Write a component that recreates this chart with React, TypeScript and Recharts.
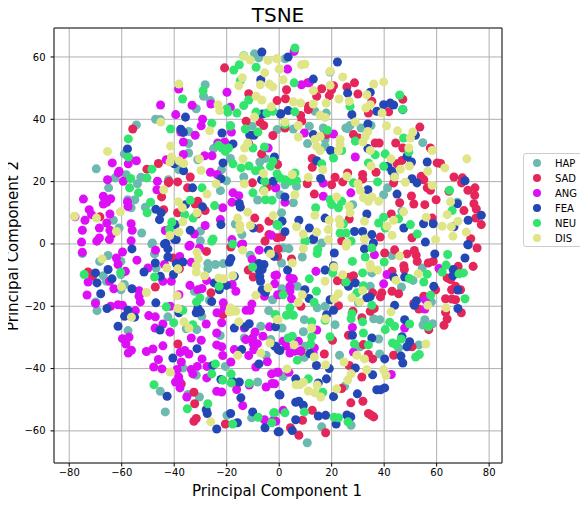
import React from 'react';
import { ScatterChart, Scatter, XAxis, YAxis, ZAxis, CartesianGrid, ReferenceArea } from 'recharts';

type P = number[];
const hap: P[] = [[-9.4,61],[-7.8,59.7],[-28.2,51.1],[-28.8,47.4],[-26.2,46],[-31.6,43.4],[-47.1,40],[-45.3,39.9],[-54.4,38.2],[-34.5,36.1],[-34.5,32.2],[-34.5,29.2],[-25,30.6],[-59,28.9],[-31,27],[-38.3,23.9],[-69.7,24.1],[-58.3,22.2],[-62.5,21.2],[-54,19.3],[-52.7,21.4],[-65,18],[-42.2,20.6],[-57.7,14.2],[-55,14.2],[-56.4,11.6],[-51,11.8],[-10.3,37.8],[-0.8,36.7],[-18.6,38],[-22,23.8],[-18.6,27.4],[-7.4,26.3],[-5.3,27.4],[-13.5,21.5],[-20.1,20.3],[-22.4,17.1],[-8.2,14.1],[-63.2,7.6],[-61,5.1],[-52.4,3.5],[-30,4.1],[-16.7,6.4],[-14.2,3],[-48.3,0.3],[-30,1],
[2.2,59.4],[11.5,37.8],[16.8,37.2],[5.4,36.9],[10.8,32.2],[13.6,42.6],[17.9,42],[19.4,55.2],[25.4,37.2],[27,38],[26,37],[31.2,37.2],[35,38],[54.7,32.5],[17.5,33.5],[17.5,31.3],[23.2,30.3],[39.8,15.8],[41.3,18],[28,12.6],[2.2,19],[6,20.1],[6.6,18.5],[0.3,15.8],[5.4,13.2],[0.9,10],[46.8,10.5],[16.2,0.3],[67.9,13.4],
[-75,-3.1],[-68.4,-5.6],[-65.2,-3.7],[-67,-10.2],[-65.8,-12],[-60.3,-5.6],[-60.3,-9.8],[-60.3,-14.7],[-59,-13],[-69.9,-18.6],[-69.4,-21.4],[-57.6,-27.8],[-48.5,0],[-47.5,-3.2],[-46.9,-7.7],[-27.2,-6.3],[-27.2,-8],[-24.3,-6.6],[-21.3,-6.3],[-11,-3.6],[-32.3,-15.2],[-26.6,-18.1],[-42.4,-23.4],[-29.5,-23.2],[-35.4,-27.2],[-31.4,-27.5],[-22.5,-29.4],[-13.3,-30.2],[-7,-26.4],[-4,-21.4],[-2.5,-17.9],[-3.2,-30.7],[-5,-35.7],[-31.6,-42.1],[-36.7,-39.8],[-20.5,-39.3],[-8.2,-44.3],[-45.3,-47.3],[-30.4,-49.1],[-43.4,-53.9],[-19.9,-55],[-10.5,-55.8],[-34.8,-48.3],
[1.5,-1.3],[3.7,-1.5],[8.8,-4.2],[0.9,-6.1],[43,-3.7],[20.7,-7.7],[35.3,-9.3],[34.7,-13.6],[6.9,-13.6],[1.1,-14.4],[54.5,-7.7],[46.6,-13.8],[51,-11.7],[58,-18.6],[14.5,-20.5],[17.5,-20],[9.6,-24.3],[36,-24],[38.3,-24.3],[55.5,-24.3],[54.8,-26],[58.5,-25.6],[21.3,-25.9],[1.1,-27],[9.2,-28.2],[37.9,-30.5],[53.2,-32.4],[45.5,-33.4],[9.8,-32.8],[9.6,-36.4],[23,-35.7],[38.3,-35.3],[1.5,-42.5],[24.9,-45.7],[30.2,-18.9],[30.9,-33],[27.4,-58.2],[16.2,-58.7],[10.7,-63.8]];
const sad: P[] = [[-20.8,56.5],[-11.6,48.2],[-0.8,46],[-55.8,36.9],[-12.6,39.4],[-7.3,39.1],[-5.9,38],[-2.4,34.8],[-11.6,32.2],[-6.7,28.9],[-0.6,25.5],[-46,25.8],[-50.4,24],[-42,20],[-42.2,19.6],[-38.7,19.9],[-33.9,21.5],[-34.9,18],[-44.8,15.1],[-31,13.7],[-32,12.8],[-44,11],[-38.7,10],[-31.3,9.6],[-28.2,10.7],[-10.2,19.6],[-4.6,18.2],[-9.3,8.3],[-3.9,7.3],[-7.5,5],[-3.9,3],[-68.3,8.7],[-0.8,2],
[2.8,49.5],[2.4,46.6],[10.8,51.7],[16.2,49.8],[20.7,50.8],[20,49.5],[19.1,47.6],[14.3,47.4],[25.8,50.4],[28.7,51.7],[30,48.1],[11.2,44.2],[11.1,43.1],[8.2,41.2],[8.6,39.4],[35.3,45.8],[34,42],[41.7,42.4],[47.1,46.4],[53.6,37.5],[28.3,35.1],[30.2,34],[18.1,35.1],[2.2,37.2],[36.6,32.4],[38.1,32.4],[44.4,32.4],[47.1,30.8],[57.6,30.8],[46.8,26.8],[44.9,25.7],[12.6,27.4],[12.6,24.6],[26.1,22.8],[31.8,22.3],[31.8,20.8],[21.3,21.4],[24.2,19.9],[10.7,19.3],[20,19],[43.6,19.6],[36.9,23],[60.2,26],[61.5,25.8],[54.1,21.7],[55.1,20.6],[56.4,18],[57.6,17.2],[66.6,21.5],[69.8,21.2],[69.5,19.6],[71.9,17.2],[74.6,18],[74.5,15.6],[74.2,12.9],[75.1,11.2],[74.9,8.3],[77,6.2],[70.4,10.7],[64.7,16.9],[59.8,14.2],[50.4,15.4],[51.3,12.8],[45.9,13.2],[55.5,12.6],[13.4,16],[42.7,9.6],[26.7,8],[58.3,8.3],[50.6,2],[38.5,2.2],[0.9,2.2],[23.8,1],[73,1.7],
[-72.8,-9],[-71.1,-10.4],[-40.5,-4.5],[-38,-8],[-27.7,-2.4],[-18.4,-1],[-5.4,0.9],[-11.8,-8.4],[-9.9,-10.6],[-0.6,-4],[-47.2,-13.8],[-26,-15.7],[-21.5,-22.7],[-38.6,-32.1],[-37.3,-44.9],[-32.5,-47.6],[-32.2,-51.3],[-31.6,-56],[-32.5,-56.9],[-20.5,-57.8],
[-0.4,-1.6],[4.7,-4.8],[40.2,-2.9],[44,-1.9],[48.7,-3.2],[51.5,-2.1],[52.2,-3.6],[52.6,-5.6],[56.8,-6.1],[58.7,-5.6],[47.5,-7],[47.7,-8.2],[75.4,-1.3],[73.9,-7.2],[43,-8.8],[43,-15.2],[45.5,-16],[35.6,-15.7],[39.1,-15.7],[38.6,-17],[28.3,-10.2],[26.7,-10.7],[22.2,-11.8],[25.1,-12.2],[22.6,-19.8],[34.7,-21.6],[36.2,-20.7],[28.1,-21.6],[31.5,-23.7],[55.1,-16.8],[59.6,-14.7],[64,-10.9],[65.3,-11.4],[51.3,-19.1],[53.2,-20.9],[63.4,-17.6],[65.7,-14.7],[67.2,-13.6],[68.2,-7.2],[69.1,-14.7],[67.2,-17.9],[65.8,-17.7],[63.4,-21.9],[69.4,-22.1],[64,-24.1],[62.8,-26.1],[57,-27.5],[26.4,-29.3],[20.3,-30.9],[32.1,-32.3],[34,-35.5],[35.6,-36.9],[43.6,-35.7],[50.6,-33],[17.2,-35.3],[8.3,-34.4],[26.7,-39],[31.5,-42.7],[23.8,-46.4],[27.3,-51],[31.9,-50.5],[34,-54.4],[35.1,-55],[36,-55.5],[12.6,-53.4],[8.9,-56.6],[4.3,-59],[7.5,-61.4],[17.7,-60.6],[8.3,-20]];
const ang: P[] = [[-38.3,49.7],[-19.9,48.7],[-45.2,44.6],[-33.2,44.5],[-26,44.9],[-18.6,43.9],[-39.4,41.5],[-29.2,40],[-29.7,37.9],[-37.5,35.9],[-32,34.9],[-18.2,35.9],[-36.5,32.7],[-23.4,32.4],[-20.8,32.7],[-36.5,28.7],[-28.4,28.3],[-25.6,28.3],[-57.5,25.7],[-57,27.3],[-63.6,26],[-54.4,26.7],[-43,27],[-61,23.3],[-61.3,22.8],[-26.2,23],[-23.6,22.3],[-65.4,20.6],[-59.4,20.1],[-46.4,20.1],[-46.6,17.4],[-74.6,14.4],[-67,15.3],[-64.2,14.5],[-67,12.8],[-65.7,13.4],[-57.8,13.5],[-57.6,12],[-17.6,16.4],[-15.4,15.5],[-18,13.4],[-21.5,11.6],[-1.4,18],[-72.4,11],[-71.5,9.4],[-74,7.6],[-64.5,9.6],[-77.8,8.7],[-65.7,6.7],[-68.5,5.1],[-75,4.4],[-64.5,4.4],[-63.8,3.2],[-56.4,6.5],[-56,4.4],[-68.5,1.9],[-69.5,0.9],[-64.7,1.4],[-75.3,0.6],[-56.4,1],[-22.4,7.8],[-28.2,5.9],[-32.3,3.2],[-43.4,4.3],[-18,1.4],[-3,2.8],[-34,-0.4],[-13.9,0],[-4.2,30.8],
[5.7,61.8],[3.2,56.1],[8.5,51.1],[11.4,51.7],[9.6,35.6],[20.7,35.3],[29,27.9],[16.8,19.5],[16.8,15.3],[27.3,16.4],[2.2,13.4],[-1.3,18],
[-75,-2.7],[-59.7,-2.6],[-62,-4.5],[-61.4,-6.6],[-58.6,-8.8],[-54.2,-5.2],[-72.8,-12.2],[-64.6,-12],[-63,-14.4],[-73.2,-16.4],[-70,-19.1],[-64.2,-20],[-61.4,-19.5],[-59.7,-19.7],[-53.4,-15],[-53.4,-16.8],[-52.9,-18.6],[-54.8,-21.4],[-49.7,-23],[-47.2,-23.4],[-44.3,-25.7],[-47.3,-27],[-41.6,-28.3],[-59.7,-30.4],[-57.2,-29.9],[-58.4,-32.1],[-56.3,-34.1],[-57.5,-35],[-50.6,-34.5],[-48.1,-33.7],[-44.3,-32.7],[-46,-37.1],[-47.8,-39.5],[-44.7,-40.1],[-50,-7.7],[-43.7,-6.6],[-47.1,-2],[-44.3,-12],[-41.1,-12],[-38.2,-16.3],[-41.5,-20],[-37.3,-21.1],[-34.4,-0.7],[-30.4,-1.3],[-37.9,-4],[-33.5,-5.9],[-34,-13.3],[-31,-14.7],[-29.4,-14.3],[-27.6,-11.7],[-33.5,-30.2],[-29.7,-30.9],[-27.8,-25.7],[-23.8,-28.6],[-23.7,-22.1],[-20.9,-20.7],[-21.9,-25.3],[-21.3,-18.9],[-23.8,-32.4],[-21.9,-33],[-21.5,-35.8],[-37.7,-34.8],[-36,-34.2],[-34.4,-35.3],[-37.3,-37.9],[-29.4,-36.9],[-33.5,-40.3],[-31.2,-39.3],[-38.9,-40.3],[-27.5,-39.3],[-32.9,-41.7],[-27.6,-43],[-38.3,-42.7],[-38,-44.1],[-39.5,-44.3],[-37.8,-46.2],[-35.2,-49.1],[-23.8,-47.3],[-21.9,-47.5],[-18.4,-37.9],[-17.1,-33.9],[-11.6,-35.8],[-8.9,-39.5],[-4.5,-37.8],[-2.9,-41.7],[-0.8,-41.2],[-2.7,-44.8],[-5,-45.9],[-13.9,-51.9],[-16.2,-46.7],[-11.4,-45.3],[-12.7,-30.7],[-9.2,-28.3],[-6.2,-29.6],[-9.9,-32],[-8.3,-32],[-9.7,-33.9],[-13.3,-27],[-10.1,-30.2],[-3.7,-26.6],[-12.6,-21.3],[-11.1,-21.3],[-10.4,-19.3],[-16.5,-15.2],[-17.9,-13],[-5.6,-16.8],[-0.6,-16.3],[-1.6,-10.1],[-7.6,-2],[-10.3,-5],[-14.4,-0.2],[-2.2,-56.6],[-5.6,-56.4],
[36.3,-3.5],[14,-8.8],[41.1,-9.8],[39.8,-12.8],[60.9,-7.9],[-1,-10],[4.1,-10.9],[5.4,-11.2],[4.1,-13.6],[4.1,-15.2],[0.3,-16.3],[4.7,-17.6],[-1.7,-12.8],[55.7,-17.9],[55.5,-20.9],[14.3,-27.6],[27.9,-26.8],[47.8,-27],[7.3,-31.2],[1.5,-31.2],[2.8,-32.8],[4.1,-35],[6,-34.4],[8,-34.4],[13.4,-33.4],[13,-35.3],[28.3,-34.7],[-0.4,-41.2],[3.7,-41.2],[42.7,-41.9],[1.5,-53.4],[-1.7,-44.9],[-1.3,-56.9]];
const fea: P[] = [[-6.6,61.6],[-7,52.7],[0.5,41.7],[-6.4,41.7],[-35.7,40.7],[-37.5,36.8],[-36.5,35.8],[-21.8,35.6],[-11.2,34.9],[-9.6,34.9],[-57.8,30.5],[-17.6,32.1],[-36.4,23.5],[-40,25.7],[-21.4,26],[-1.8,27.9],[-22.2,20.9],[-6.7,20.6],[-2.3,20.1],[-33,18],[-29.2,11.9],[-35.7,12.6],[-47,11.1],[-45,10],[-45.6,7.8],[-33.9,4.4],[-39.6,6.2],[-39.2,1.4],[-43.2,0.2],[-22.2,6.2],[-14.8,11.8],[-15.2,13],[-9.9,5.1],[-0.8,6.2],
[3.4,60],[22.2,58.4],[13,52.9],[26.1,48.4],[34.7,48.7],[39.8,44.7],[42.3,45.2],[43.6,44.6],[47.1,43.1],[27.7,41.5],[37.2,42.6],[0.6,41.8],[3.4,42.8],[33.8,38.5],[13,35.1],[51.9,34.9],[14.3,26.7],[19.6,30],[33.8,30.6],[48.7,28.1],[50.4,26.3],[41.4,24.9],[43,23.3],[43.9,21.7],[56.4,26.3],[50.6,20.9],[52.5,19.6],[70.8,20.3],[15.8,21],[2.2,15.1],[33.8,17.4],[44.9,16],[67.9,12.9],[33.4,9.6],[7.5,7.6],[1.1,7.3],[2.2,3.9],[11.5,5.1],[17.5,8.3],[13.1,1.7],[28.7,4],[31.8,4],[35.3,3],[47.5,5.1],[55,6.5],[58.7,6.5],[72,7.6],[77,9.2],[66.6,5.5],[72,-0.3],[55.7,0.6],
[-56.1,-1.6],[-43.7,0],[-42.4,-1.6],[-42.4,-4.2],[-47.2,-6.1],[-51.5,-9],[-45.3,-10.4],[-40.3,-9.8],[-39.2,-6.3],[-36.7,-5.8],[-65.2,-8.2],[-70,-9.3],[-69.4,-12.5],[-63.7,-11.2],[-68,-16],[-56.1,-14.4],[-65.6,-20.7],[-57.6,-21.3],[-58.9,-23.2],[-55.1,-23.5],[-61.4,-26.4],[-47,-18.9],[-25.7,-18.5],[-31,-20.7],[-31.6,-22.1],[-30,-21.8],[-38.2,-22.1],[-45.4,-27.6],[-31.3,-33.6],[-40.5,-36.6],[-17.1,-27],[-12.9,-26.6],[-11.4,-25.6],[-14.3,-33.9],[-7.7,-38.5],[-25.3,-39],[-24.7,-12.5],[-22.8,-14.7],[-20.1,-13.3],[-19,-5.9],[-18.4,-4.7],[-17.1,-10.4],[-7.7,-6.3],[-5.8,-6.6],[-7.7,-8.4],[-6.5,-8.2],[-7.4,-10.4],[-7.1,-12],[-6.5,-14.7],[-5.2,-15.5],[-4.1,-2],[-1.9,-4],[-22.2,-43.5],[-17.8,-44.1],[-15.2,-44.3],[-14.6,-49.4],[-42.7,-48.9],[-27.8,-53.2],[-27.4,-54.4],[-18.5,-54.4],[-10.1,-53.9],[-23.8,-59.4],[-15.9,-57.4],[-5.4,-59],[-0.4,-60.3],[0,-48.3],[-1.3,-32.8],[-39.8,1.4],
[13,1.4],[21,-2.9],[32.5,-1.6],[35.9,0.3],[59.3,-3.2],[70.8,-4.5],[71.9,-0.2],[20.7,-7],[3.2,-8.4],[17.5,-8.4],[43.6,-10.7],[47.8,-10.6],[29,-12.5],[26.4,-13.6],[9.8,-14.7],[33.4,-17.3],[34.6,-17],[11.4,-17.5],[44,-19.7],[19.4,-17.9],[20.7,-21.3],[18.1,-22.7],[58.9,-13.6],[66.3,-8.2],[66.2,-10.2],[68.1,-14.8],[68.1,-20.7],[52.3,-18.2],[51.5,-19.7],[47.8,-24.3],[27.9,-29.3],[35.3,-30.2],[46.8,-29.8],[49.7,-31.4],[48.7,-33],[46.4,-36],[47.1,-38.2],[40.2,-36.9],[11.7,-35.2],[-0.4,-33.9],[-1.7,-32.8],[0.3,-34.2],[14.2,-39],[19.1,-40],[29,-39.8],[35.6,-42],[6.3,-43.3],[18,-43.3],[14.9,-44.6],[0.3,-48.5],[20.7,-49],[29.8,-48.1],[37.2,-46.8],[38.6,-46.8],[40.2,-46.2],[6.3,-50.8],[7.5,-50.5],[9.2,-51.8],[14.9,-55.2],[17.7,-55],[25.8,-54.9],[27.3,-55.5],[21.7,-57.8],[5,-59.9],[0,-60.3],[6.3,-56.4],[-1.4,-26.6]];
const neu: P[] = [[-13.5,60.4],[-15.2,57.5],[-17.3,55.8],[-8.8,56.7],[-14.8,52.4],[-29,49.2],[-36.8,46.5],[-11.6,46.2],[-13.5,44.4],[-20,43.3],[-16.1,42],[-8.8,42.3],[-4.7,42],[-2.4,42.6],[-19.6,42.3],[-25.7,38.7],[-18.6,37.8],[-41.4,36.9],[-12.9,36.9],[-8.1,35.9],[-57.5,33.7],[-23.1,31.7],[-21.8,30.8],[-19.3,30.8],[-20.5,29.7],[-10,30.8],[-5.6,31.1],[-57.5,27.9],[-48.5,24],[-17.6,25.7],[-14.5,24.4],[-11.5,25],[-9,23.5],[-7.2,23.8],[-3.3,24.9],[-2.4,26.5],[-0.8,22.5],[-56.6,21],[-50.4,21.2],[-57,18],[-29.4,18],[-53.6,16.4],[-49,13.4],[-50.3,10],[-33.9,14],[-24.6,12.3],[-36,9.4],[-32.8,8.3],[-40.9,7],[-41.8,4.8],[-10,16.4],[-5.9,17.2],[-5.5,20.1],[-5.2,14.2],[-2.7,14],[-0.8,6.2],[-25.2,1.6],
[6,62.9],[5.7,51.7],[45.9,47.8],[27,44.2],[47.1,43.2],[6,42.4],[2.2,38.3],[18.4,36.5],[29,33],[47.4,34],[49.4,29.5],[23.8,30],[20.7,27.6],[36.6,28.6],[40.4,28.9],[34,26],[39.8,24.9],[16.2,25.7],[37.5,19.9],[28.3,19.6],[6,22.8],[0.3,21.2],[2.2,20.6],[6.6,20.3],[4,20.1],[64.9,17.2],[65.9,10.7],[19.4,14.2],[23.8,13.7],[20,12.6],[22.6,11.6],[13.9,11.6],[39.8,8.6],[37.9,6.7],[45.5,8.1],[40.4,5.1],[50,6.2],[24.5,6.5],[23.2,3.5],[25.5,3.5],[-0.4,5.9],[52.6,3.2],[10.1,1],[27.4,0.9],
[-74.3,-9.8],[-60.4,-9.1],[-47.5,-10.6],[-43,-20.2],[-36.7,-21.3],[-40.2,-25.3],[-32.9,-25.9],[-30.2,-17.3],[-31.5,-18.6],[-22.9,-13.6],[-10.1,-7.4],[-1.6,-22.7],[-24.3,-38.5],[-25.7,-41.7],[-21.5,-43.7],[-18.3,-41.7],[-18.3,-44.6],[-11.4,-44.7],[-47.7,-45.2],[-35,-52.9],[-27.2,-51.3],[-17.7,-57.8],[-8,-55.6],[-2.8,-57.4],[-2.1,-54.2],[-17.7,0],[-25.7,0.9],
[27.9,-5.6],[32.8,-4.2],[40,-5.8],[14.7,-1.8],[14.5,-3.1],[9.8,0.9],[35.3,-1.3],[64.2,-3.4],[63.6,-6.8],[56.4,-9.7],[62.1,-9],[68.5,-9.6],[70.2,-9.3],[55.1,-12.2],[49.6,-11.1],[31.8,-9.3],[20.4,-9.3],[11.5,-11.2],[25.4,-12.2],[14.2,-15.2],[1.5,-16.3],[32.1,-13.4],[29.6,-15.7],[35.3,-19.7],[70.8,-17.6],[57.7,-16.5],[13.3,-18.7],[4.1,-20.5],[2.8,-22.9],[5.4,-22.9],[-1.3,-22.7],[27.7,-22.4],[27.4,-24],[31.8,-25],[12.4,-25],[17.5,-24.5],[42.1,-25.1],[44,-26.4],[40.4,-27.5],[49.7,-25.7],[56.8,-26.6],[19.4,-29.8],[32.1,-28.6],[12.4,-29.8],[3.4,-30.2],[5,-29.6],[12,-32.1],[28.7,-32.1],[34,-32.4],[43.2,-31.8],[46.5,-30.5],[44.5,-32.3],[52,-36.3],[53.4,-35.5],[6.9,-37.3],[11.1,-43.3],[16.6,-47.6],[9.6,-53.9],[2.2,-54.2],[20.9,-55.6],[22.6,-55.8],[26.2,-57.1],[-1.7,-54.2]];
const dis: P[] = [[-13.5,60.2],[-11,59],[-4.3,58.9],[-0.8,59.4],[0,56.1],[-5.5,54.9],[-14,53.3],[-15.4,50.8],[-7.2,51.1],[-3.7,51.3],[-2.4,50.4],[-38.2,51.3],[-8.8,47.4],[-6.6,46.2],[-3,44],[-23.3,44.7],[-22.7,42.8],[-9.4,40.7],[-45.1,39.1],[-26.5,36.3],[-41.4,31.4],[-12,32.4],[-13.2,30.8],[-65.4,29.7],[-13.8,27.3],[-41,27.9],[-41.6,26.3],[-38.1,26.7],[-36.4,25.8],[-30.4,27.3],[-29.8,23.6],[-6,22.6],[-13.3,19.3],[-24,19.3],[-44,17.4],[-27.5,16],[-5.7,16.9],[-38.4,13.5],[-36.9,11.6],[-31.3,10],[-60.5,10.3],[-69.6,8.3],[-78,8.9],[-36.7,7.1],[-62,4],[-38.2,3.8],[-41.7,2.7],[-12,10.2],[-15.8,8.3],[-15,6],[-15,4.6],[-11,5.9],[-2.3,9.1],
[-1,59.4],[8.5,57.5],[9.8,57.7],[0.2,56.1],[19.4,55.4],[24.2,53.6],[1.5,52.7],[19.4,50.9],[36,51.3],[39.8,52],[13,49.2],[22.8,46.5],[26.7,45.8],[33.4,47.9],[5.4,45.6],[8.2,45.2],[13,44.9],[17.9,45.2],[34.7,44.7],[33,43.6],[39.2,42],[15.6,41.3],[17.5,40.6],[29,39.1],[40.9,37.9],[2.2,39.1],[7.3,38],[45.1,36.3],[33.8,36.1],[32.8,34.5],[31.9,32.7],[50.9,35.9],[50,34],[7.3,34.3],[13.6,33.5],[15.6,34.5],[23.2,33.5],[23.2,31.9],[14.3,31.3],[15.6,30],[22.6,30],[34.7,30],[49.4,30.8],[58.3,30],[42.6,27.3],[46.2,24],[49.6,25],[35,25],[16.6,23.8],[5,22.3],[11.1,21.4],[25.8,21.7],[44,21.5],[63.1,24.4],[56.6,23.3],[71.5,27.3],[48.1,19.8],[30,19.3],[30.9,17.2],[58.3,18.8],[6,15.8],[21.9,15.1],[32.1,14.8],[35.3,15.1],[34,13.7],[37.9,13.7],[65.3,13.5],[26.7,12.1],[27,10],[13.6,9.2],[47.4,10.3],[19.1,7.6],[22.9,7.8],[23.2,6.2],[32.5,7.3],[43.6,7.6],[56,8.6],[64,9.4],[68.1,7.3],[62.1,5.7],[65.6,5.5],[6.6,5.5],[14.3,3.8],[9.2,3.2],[18.7,4.6],[41.1,5.7],[43,2.8],[71.3,3.8],[66.2,2.5],[59.6,1.4],[32.5,1.6],[25.8,0.3],[18.7,1.4],
[-67.5,-4.8],[-42.8,-7.7],[-38.6,-8],[-31.3,-2.7],[-30.8,-4.8],[-31.6,-7],[-31.6,-9],[-28.4,-10.2],[-23,-10.9],[-21.1,-11.2],[-17.7,-10.2],[-13.9,-2],[-3.3,-3.2],[-60.1,-13.7],[-50.6,-15.6],[-38.9,-16.6],[-4.2,-14.1],[-8.9,-16.5],[-56.3,-23.5],[-38.6,-20.7],[-36.3,-25],[-34.4,-27],[-18.6,-20.5],[-17.7,-21.6],[-16.5,-21.6],[-19,-21.8],[-15.4,-25],[-0.8,-24.3],[-3.5,-31.8],[-7,-35],[-15.8,-35.7],[-41.5,-41.1],[-26.1,-57.1],
[25.5,-0.7],[9.2,-1.5],[5,-6.1],[45.9,-3.9],[34.7,-6.6],[34.9,-7.7],[37.5,-8.4],[20.9,-7.4],[24.2,-9.9],[53,-9.6],[44.5,-11.7],[17.5,-12],[22.6,-16],[31.8,-15],[21,-17.6],[27.7,-17.3],[30.6,-18.6],[8.8,-16.3],[7.3,-18.7],[56.6,-19.7],[42.6,-21.8],[63.6,-20.5],[17.7,-24],[-0.4,-24.3],[12.4,-27],[5.7,-32.4],[13.4,-36.3],[29.6,-35.7],[32.5,-36.9],[55.9,-32.1],[24.7,-37.9],[17.7,-38.8],[33.4,-40.4],[39.8,-40.4],[40.7,-42.2],[27.4,-41.7],[26.1,-43.7],[3,-40.1],[21.9,-46.5],[6.4,-45.2],[7.9,-45.2],[9.2,-44.4],[14.5,-45.3],[11.1,-47.2],[13.6,-47.8],[15.8,-49.1]];

const xTicks = [-80, -60, -40, -20, 0, 20, 40, 60, 80];
const yTicks = [-60, -40, -20, 0, 20, 40, 60];
const xDomain = [-85.8, 84.9];
const yDomain = [-70.3, 69.3];
const seriesNames = ['HAP', 'SAD', 'ANG', 'FEA', 'NEU', 'DIS'];
const seriesColors = ['#6cb9af', '#e4265a', '#dd0ff5', '#2347b5', '#33e56e', '#e0e687'];
const seriesPoints = [hap, sad, ang, fea, neu, dis];

const fmt = (v: number) => String(v).replace('-', '\u2212');
const tickStyle = { fontSize: 10, fill: '#000', fontFamily: 'DejaVu Sans' };

export default function App() {
  return (
    <div style={{ position: 'relative', width: 588, height: 506, margin: '-8px 0 0 -8px', fontFamily: 'DejaVu Sans' }}>
      <ScatterChart width={588} height={506} margin={{ top: 28, right: 86, bottom: 0, left: 0 }}>
        <text x={278} y={22} textAnchor="middle" fontSize={20} fontFamily="DejaVu Sans" fill="#000">TSNE</text>
        <text x={277} y={496} textAnchor="middle" fontSize={15} fontFamily="DejaVu Sans" fill="#000">Principal Component 1</text>
        <text x={18} y={246} textAnchor="middle" fontSize={15} fontFamily="DejaVu Sans" fill="#000" transform="rotate(-90 18 246)">Principal Component 2</text>
        <CartesianGrid stroke="#b0b0b0" strokeWidth={1} />
        <XAxis type="number" dataKey="x" domain={xDomain} ticks={xTicks} allowDataOverflow tickFormatter={fmt} height={43}
          tick={tickStyle} tickLine={{ stroke: '#000' }} tickSize={3.5} tickMargin={2} axisLine={false} interval={0} />
        <YAxis type="number" dataKey="y" domain={yDomain} ticks={yTicks} allowDataOverflow tickFormatter={fmt} width={54}
          tick={tickStyle} tickLine={{ stroke: '#000' }} tickSize={3.5} tickMargin={5} axisLine={false} interval={0} />
        <ZAxis range={[55, 55]} />
        {seriesNames.map((name, i) => (
          <Scatter key={name} name={name} shape="circle" fill={seriesColors[i]} isAnimationActive={false}
            data={seriesPoints[i].map(([x, y]) => ({ x, y }))} />
        ))}
        <ReferenceArea x1={xDomain[0]} x2={xDomain[1]} y1={yDomain[0]} y2={yDomain[1]} fill="none" stroke="#222" strokeWidth={1} fillOpacity={0} strokeOpacity={1} ifOverflow="visible" />
      </ScatterChart>
      <div style={{ position: 'absolute', left: 523, top: 152.5, width: 57, height: 92, border: '1px solid #ccc', borderRadius: 3, background: '#fff', boxSizing: 'content-box' }}>
        {seriesNames.map((name, i) => (
          <div key={name} style={{ position: 'absolute', left: 0, top: 2 + i * 15, height: 15, width: 57, fontSize: 10, lineHeight: '15px', color: '#000' }}>
            <span style={{ position: 'absolute', left: 9, top: 3.5, width: 8, height: 8, borderRadius: 4, background: seriesColors[i] }} />
            <span style={{ position: 'absolute', left: 31 }}>{name}</span>
          </div>
        ))}
      </div>
    </div>
  );
}
